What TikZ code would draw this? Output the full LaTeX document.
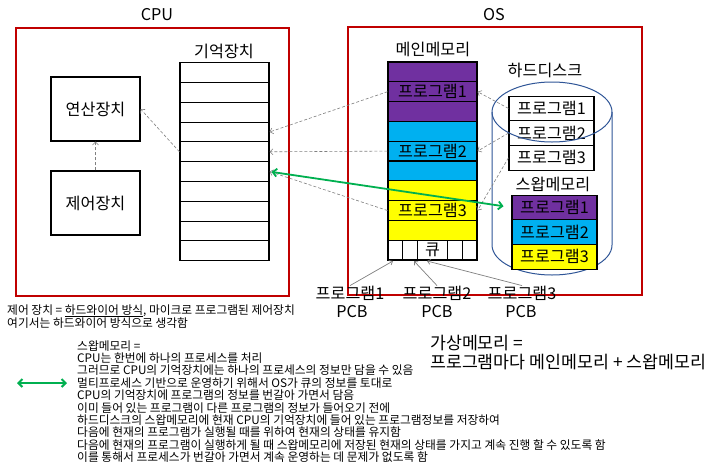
\documentclass[tikz,border=0pt]{standalone}
\usepackage{fontspec}
\setmainfont{Noto Sans CJK KR}
\usetikzlibrary{arrows.meta}
\definecolor{cpured}{RGB}{192,0,0}
\definecolor{mpurple}{RGB}{112,48,160}
\definecolor{mblue}{RGB}{0,176,240}
\definecolor{myellow}{RGB}{255,255,0}
\definecolor{hdblue}{RGB}{47,85,151}
\definecolor{agreen}{RGB}{0,176,80}
\definecolor{dgray}{RGB}{128,128,128}
\begin{document}
\begin{tikzpicture}[x=1pt,y=-1pt,
  redbox/.style={draw=cpured,line width=1.2pt},
  big/.style={font=\fontsize{16.2}{19}\selectfont,inner sep=0pt},
  unitbox/.style={draw=black,line width=1.2pt,minimum width=89pt,minimum height=64pt,inner sep=0pt,font=\fontsize{16.2}{19}\selectfont},
  cell/.style={draw=black,line width=1.1pt,minimum width=89pt,minimum height=19.8pt,inner sep=0pt,font=\fontsize{16.2}{19}\selectfont},
  hdcell/.style={draw=black,line width=1.1pt,minimum width=85pt,minimum height=24.7pt,inner sep=0pt,font=\fontsize{16.2}{19}\selectfont},
  qcell/.style={draw=black,line width=1.1pt,minimum height=19.8pt,inner sep=0pt,font=\fontsize{16.2}{19}\selectfont},
  dasharrow/.style={draw=dgray,line width=0.6pt,dash pattern=on 3pt off 2pt,-{Straight Barb[length=3pt,width=6pt]}},
  pcbarrow/.style={draw=dgray,line width=0.7pt,-{Straight Barb[length=3pt,width=5pt]}},
  greenarrow/.style={draw=agreen,line width=1.8pt,{Straight Barb[length=4pt,width=8pt]}-{Straight Barb[length=4pt,width=8pt]}},
  small/.style={font=\fontsize{11.75}{12.4}\selectfont,inner sep=0pt,anchor=base west},
  mid/.style={font=\fontsize{17.3}{20}\selectfont,inner sep=0pt,anchor=base west}
]
\useasboundingbox (0,0) rectangle (720,469);
\fill[white] (0,0) rectangle (720,469);

% frames
\draw[redbox] (16,28) rectangle (289,296);
\draw[redbox] (348,27) rectangle (642,295);
\node[big] (cpulbl) at (157,15) {CPU};
\node[big] (oslbl) at (494,15) {OS};

% CPU units
\node[unitbox] (alu) at (95.5,109) {연산장치};
\node[unitbox] (ctrl) at (95.5,203) {제어장치};
\node[big] (memlbl) at (224,51) {기억장치};
\foreach \i in {1,...,10}{
  \node[cell] (r\i) at (224.5,{62.7+19.8*(\i-0.5)}) {};
}

% main memory
\node[big] (mmlbl) at (433,49) {메인메모리};
\node[cell,fill=mpurple] (m1) at (432.5,{62+19.8*0.5}) {};
\node[cell,fill=mpurple] (m2) at (432.5,{62+19.8*1.5}) {프로그램1};
\node[cell,fill=mpurple] (m3) at (432.5,{62+19.8*2.5}) {};
\node[cell,fill=mblue] (m4) at (432.5,{62+19.8*3.5}) {};
\node[cell,fill=mblue] (m5) at (432.5,{62+19.8*4.5}) {프로그램2};
\node[cell,fill=mblue] (m6) at (432.5,{62+19.8*5.5}) {};
\node[cell,fill=myellow] (m7) at (432.5,{62+19.8*6.5}) {};
\node[cell,fill=myellow] (m8) at (432.5,{62+19.8*7.5}) {프로그램3};
\node[cell,fill=myellow] (m9) at (432.5,{62+19.8*8.5}) {};
% queue
\node[qcell,minimum width=14.83pt] (q1) at (395.42,250.1) {};
\node[qcell,minimum width=14.83pt] (q2) at (410.25,250.1) {};
\node[qcell,minimum width=29.67pt] (q3) at (432.5,250.1) {큐};
\node[qcell,minimum width=14.83pt] (q4) at (454.75,250.1) {};
\node[qcell,minimum width=14.83pt] (q5) at (469.58,250.1) {};
\coordinate (t1) at (393,261);
\coordinate (t2) at (414,261);
\coordinate (t3) at (427,261);

% hard disk
\node[big] (hdlbl) at (545,70) {하드디스크};
\draw[hdblue,line width=1pt] (492,112) -- (492,245) arc[start angle=180,end angle=0,x radius=60,y radius=30] -- (612,112);
\node[hdcell,fill=white] (h1) at (551.5,108.4) {프로그램1};
\node[hdcell,fill=white] (h2) at (551.5,133.1) {프로그램2};
\node[hdcell,fill=white] (h3) at (551.5,157.8) {프로그램3};
\draw[hdblue,line width=1pt] (552,112) ellipse[x radius=60,y radius=30];
\node[big] (swlbl) at (553,184) {스왑메모리};
\node[hdcell,fill=mpurple] (s1) at (554.5,207.4) {프로그램1};
\node[hdcell,fill=mblue] (s2) at (554.5,232.1) {프로그램2};
\node[hdcell,fill=myellow] (s3) at (554.5,256.8) {프로그램3};

% PCB labels
\node[big] (pl1) at (350,293) {프로그램1};
\node[big] (pl2) at (437,293) {프로그램2};
\node[big] (pl3) at (522,293) {프로그램3};
\node[big] (pc1) at (352,312) {PCB};
\node[big] (pc2) at (437,312) {PCB};
\node[big] (pc3) at (521,312) {PCB};
\draw[pcbarrow] (pl1.north) -- (t1);
\draw[pcbarrow] (pl2.north) -- (t2);
\draw[pcbarrow] (pl3.north) -- (t3);

% dashed arrows
\draw[dasharrow] (ctrl.north) -- (alu.south);
\draw[dasharrow] (r5.west) -- (alu.east);
\draw[dasharrow] (m2.west) -- (r4.east);
\draw[dasharrow] (m5.west) -- (r5.east);
\draw[dasharrow] (m8.west) -- (r6.east);
\draw[dasharrow] (h1.west) -- (m2.east);
\draw[dasharrow] (h2.west) -- (m5.east);
\draw[dasharrow] (h3.west) -- (m8.east);
\draw[greenarrow,shorten <=2pt,shorten >=8pt] (r6.east) -- (s1.west);

% texts
\node[small] (c1) at (7,314) {제어 장치 = \underline{하드와이어 방식}, 마이크로 프로그램된 제어장치};
\node[small] (c2) at (7,327) {여기서는 하드와이어 방식으로 생각함};

\node[small] (b0) at (77,350) {스왑메모리 =};
\node[small] (b1) at (77,362.4) {CPU는 한번에 하나의 프로세스를 처리};
\node[small] (b2) at (77,374.8) {그러므로 CPU의 기억장치에는 하나의 프로세스의 정보만 담을 수 있음};
\node[small] (b3) at (77,387.2) {멀티프로세스 기반으로 운영하기 위해서 OS가 큐의 정보를 토대로};
\node[small] (b4) at (77,399.6) {CPU의 기억장치에 프로그램의 정보를 번갈아 가면서 담음};
\node[small] (b5) at (77,412) {이미 들어 있는 프로그램이 다른 프로그램의 정보가 들어오기 전에};
\node[small] (b6) at (77,424.4) {하드디스크의 스왑메모리에 현재 CPU의 기억장치에 들어 있는 프로그램정보를 저장하여};
\node[small] (b7) at (77,436.8) {다음에 현재의 프로그램가 실행될 때를 위하여 현재의 상태를 유지함};
\node[small] (b8) at (77,449.2) {다음에 현재의 프로그램이 실행하게 될 때 스왑메모리에 저장된 현재의 상태를 가지고 계속 진행 할 수 있도록 함};
\node[small] (b9) at (77,461.6) {이를 통해서 프로세스가 번갈아 가면서 계속 운영하는 데 문제가 없도록 함};

\coordinate (ga) at (17,383);
\coordinate (gb) at (67,383);
\draw[greenarrow,line width=2pt] (ga) -- (gb);

\node[mid] (v1) at (430,349) {가상메모리 =};
\node[mid] (v2) at (430,368) {프로그램마다 메인메모리 + 스왑메모리};
\end{tikzpicture}
\end{document}
